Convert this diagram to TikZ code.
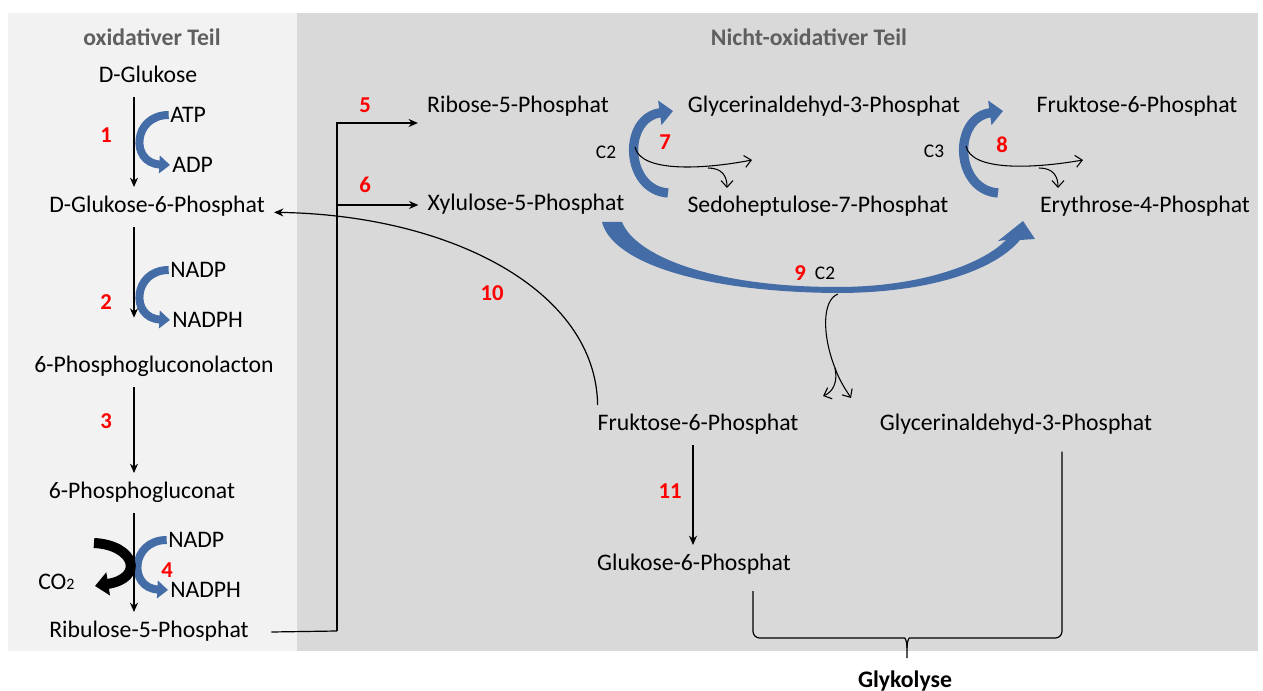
\documentclass[tikz,border=0pt]{standalone}
\usepackage{fontspec}
\setmainfont{Carlito}
\usetikzlibrary{arrows.meta,positioning}
\definecolor{panelLight}{RGB}{242,242,242}
\definecolor{panelDark}{RGB}{217,217,217}
\definecolor{arcBlue}{RGB}{68,108,166}
\definecolor{titleGray}{RGB}{95,95,95}
\tikzset{
  met/.style={font=\fontsize{17.8}{20}\selectfont, inner sep=0pt, outer sep=7pt,
    text height=12pt, text depth=4pt},
  cof/.style={font=\fontsize{17.8}{20}\selectfont, inner sep=0pt, anchor=west},
  ttl/.style={font=\fontsize{17.8}{20}\selectfont\bfseries, text=titleGray},
  num/.style={font=\fontsize{17}{20}\selectfont\bfseries, text=red, inner sep=0pt},
  carb/.style={font=\fontsize{14.5}{16}\selectfont, inner sep=0pt},
  rxn/.style={line width=0.9pt, -{Stealth[length=7pt,width=6pt]}},
  split/.style={line width=0.8pt, -{Straight Barb[length=5pt,width=9pt]}},
  bluearc/.style={draw=arcBlue, line width=6pt, -{Triangle[length=8pt,width=13pt]}},
  bigarc/.style={draw=arcBlue, line width=7pt, -{Triangle[length=10pt,width=18pt]}},
  bracket/.style={line width=0.9pt, rounded corners=5pt},
}
\begin{document}
\begin{tikzpicture}[x=0.75pt,y=-0.75pt]
\useasboundingbox (0,0) rectangle (1263,691);
% Hintergrund
\fill[white] (0,0) rectangle (1263,691);
\fill[panelLight] (8,13) rectangle (297,651);
\fill[panelDark] (297,13) rectangle (1258,651);
\node[ttl] (oxt) at (152,37) {oxidativer Teil};
\node[ttl] (noxt) at (809,37) {Nicht-oxidativer Teil};

% oxidativer Teil
\node[met] (glc) at (148,77) {D-Glukose};
\node[met] (g6p) at (157,207) {D-Glukose-6-Phosphat};
\node[met] (pgl) at (154,367) {6-Phosphogluconolacton};
\node[met] (pgn) at (142,493) {6-Phosphogluconat};
\node[met] (ru5p) at (149,632) {Ribulose-5-Phosphat};
\coordinate (colA) at (134,0);

\node[cof] (atp) at (170,115) {ATP};
\node[cof] (adp) at (172,165) {ADP};
\node[cof] (nadpA) at (170,270) {NADP};
\node[cof] (nadphA) at (172,320) {NADPH};
\node[cof] (nadpB) at (168,540) {NADP};
\node[cof] (nadphB) at (170,590) {NADPH};
\node[cof] (co2) at (38,582) {CO{\fontsize{12}{14}\selectfont 2}};

\draw[bluearc] ([xshift=-1pt]atp.west) .. controls +(-36,0) and +(-40,-2) .. ([xshift=-1.5pt]adp.west);
\draw[bluearc] ([xshift=-1pt]nadpA.west) .. controls +(-36,0) and +(-40,-2) .. ([xshift=-1.5pt]nadphA.west);
\draw[bluearc] ([xshift=-1pt]nadpB.west) .. controls +(-36,0) and +(-40,-2) .. ([xshift=-1.5pt]nadphB.west);
\draw[line width=7.5pt, -{Triangle[length=10pt,width=17pt]}] (94,543) .. controls (135,545) and (145,578) .. (95,586);

\draw[rxn] (glc.south -| colA) -- (g6p.north -| colA);
\draw[rxn, shorten >=22pt] (g6p.south -| colA) -- (pgl.north -| colA);
\draw[rxn] (pgl.south -| colA) -- (pgn.north -| colA);
\draw[rxn] (pgn.south -| colA) -- (ru5p.north -| colA);

\node[num] (n1) at (106,135) {1};
\node[num] (n2) at (106,302) {2};
\node[num] (n3) at (106,421) {3};
\node[num] (n4) at (167,570) {4};

% nicht-oxidativer Teil
\node[met] (r5p) at (518,107) {Ribose-5-Phosphat};
\node[met] (xu5p) at (526,205) {Xylulose-5-Phosphat};
\node[met] (gap) at (824,107) {Glycerinaldehyd-3-Phosphat};
\node[met] (s7p) at (818,207) {Sedoheptulose-7-Phosphat};
\node[met] (f6p) at (1137,107) {Fruktose-6-Phosphat};
\node[met] (e4p) at (1145,207) {Erythrose-4-Phosphat};
\node[met] (f6pb) at (698,425) {Fruktose-6-Phosphat};
\node[met] (gapb) at (1016,425) {Glycerinaldehyd-3-Phosphat};
\node[met] (g6pb) at (694,565) {Glukose-6-Phosphat};
\node[font=\fontsize{17.8}{20}\selectfont\bfseries] (glyk) at (905,681) {Glykolyse};

\coordinate (trunk) at (337,631);
\draw[line width=0.9pt] ([xshift=10pt]ru5p.east) -- (trunk);
\draw[rxn] (trunk) |- ([yshift=3pt]r5p.south west);
\draw[rxn] (trunk |- xu5p.west) -- (xu5p.west);
\node[num] (n5) at (365,105) {5};
\node[num] (n6) at (365,185) {6};

% Transketolase / Transaldolase
\draw[bigarc] (668,193) .. controls (625,190) and (622,118) .. (673,111);
\draw[bigarc] (998,193) .. controls (955,190) and (952,118) .. (1003,111);
\coordinate (s7a) at (635,147);
\coordinate (s8a) at (966,146);
\draw[split] (s7a) .. controls (640,172) and (700,170) .. (752,160);
\draw[split] (708,168) .. controls (722,168) and (727,176) .. (727,188);
\draw[split] (s8a) .. controls (971,171) and (1031,169) .. (1083,160);
\draw[split] (1039,168) .. controls (1053,168) and (1058,176) .. (1058,188);
\node[carb] (c7) at (606,152) {C2};
\node[carb] (c8) at (934,151) {C3};
\node[num] (n7) at (665,142) {7};
\node[num] (n8) at (1002,145) {8};

% Bogen 9
\fill[arcBlue] (602,222) .. controls (612,262) and (700,292) .. (837,293)
  .. controls (930,293) and (995,270) .. (1020,240) -- (1035,239) -- (1023,221)
  -- (998,241) -- (1006,240) .. controls (985,262) and (925,287) .. (837,287)
  .. controls (710,287) and (635,255) .. (622,222) -- cycle;
\coordinate (s9a) at (838,294);
\coordinate (s9b) at (835,368);
\draw[line width=0.8pt] (s9a) .. controls (822,300) and (822,335) .. (s9b);
\draw[split] (s9b) .. controls (838,382) and (833,392) .. (823,396);
\draw[split] (s9b) .. controls (840,382) and (846,390) .. (851,398);
\node[num] (n9) at (800,273) {9};
\node[carb] (c9) at (825,273) {C2};

\draw[rxn] ([xshift=7pt]f6pb.north west) .. controls (596,290) and (450,215) .. ([yshift=-4pt]g6p.east);
\node[num] (n10) at (492,293) {10};
\draw[rxn] (f6pb.south -| g6pb.north) ++(-1,0) -- ([xshift=-0.75pt]g6pb.north);
\node[num] (n11) at (670,491) {11};

% Klammer
\coordinate (bl) at (753,0);
\coordinate (br) at (1062,0);
\draw[bracket] ([yshift=-4.5pt]g6pb.south -| bl) |- (898,638) [sharp corners] .. controls (905,638) and (907,641) .. (907,648) -- (907,658);
\draw[bracket] ([yshift=-5pt]gapb.south -| br) |- (916,638) [sharp corners] .. controls (909,638) and (907,641) .. (907,648);
\end{tikzpicture}
\end{document}
